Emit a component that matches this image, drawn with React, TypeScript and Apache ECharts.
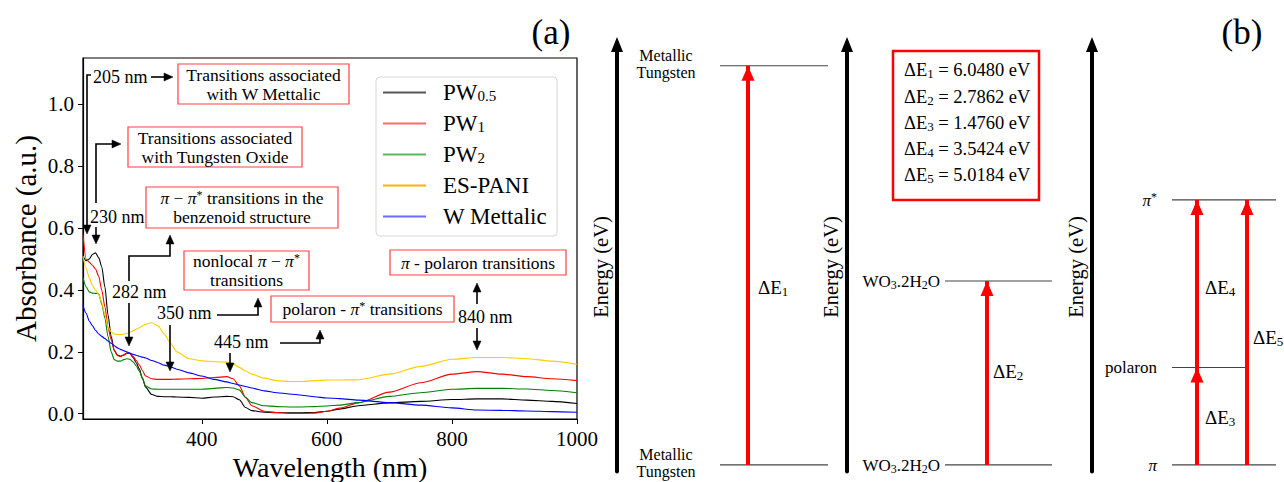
import React, { useEffect, useRef } from 'react';
import * as echarts from 'echarts';

// ---------- data ----------
const wavelengths = [210, 215, 220, 225, 230, 235, 240, 245, 250, 255, 260, 265, 270, 275, 280, 285, 290, 295, 300, 305, 310, 320, 330, 340, 350, 360, 380, 400, 420, 440, 450, 460, 470, 480, 500, 520, 540, 560, 580, 600, 620, 650, 700, 750, 800, 840, 880, 920, 960, 1000];
const pw05 = [0.51, 0.495, 0.5, 0.515, 0.52, 0.505, 0.475, 0.41, 0.32, 0.25, 0.205, 0.19, 0.186, 0.19, 0.195, 0.195, 0.182, 0.165, 0.145, 0.115, 0.086, 0.062, 0.056, 0.055, 0.055, 0.054, 0.053, 0.05, 0.054, 0.056, 0.055, 0.045, 0.02, 0.01, 0.005, 0.003, 0.003, 0.003, 0.004, 0.008, 0.015, 0.026, 0.035, 0.04, 0.046, 0.048, 0.048, 0.044, 0.04, 0.033];
const pw1 = [0.58, 0.5, 0.49, 0.48, 0.468, 0.445, 0.4, 0.346, 0.28, 0.24, 0.205, 0.188, 0.185, 0.19, 0.196, 0.195, 0.186, 0.172, 0.158, 0.14, 0.122, 0.113, 0.111, 0.111, 0.111, 0.112, 0.113, 0.114, 0.117, 0.12, 0.113, 0.09, 0.053, 0.026, 0.008, 0.004, 0.001, 0.001, 0.002, 0.008, 0.018, 0.035, 0.07, 0.1, 0.128, 0.136, 0.128, 0.12, 0.113, 0.107];
const pw2 = [0.44, 0.41, 0.394, 0.39, 0.389, 0.388, 0.355, 0.31, 0.25, 0.2, 0.175, 0.17, 0.17, 0.175, 0.178, 0.176, 0.168, 0.155, 0.138, 0.115, 0.09, 0.08, 0.079, 0.079, 0.079, 0.079, 0.079, 0.079, 0.082, 0.085, 0.083, 0.077, 0.052, 0.036, 0.026, 0.023, 0.022, 0.022, 0.023, 0.025, 0.028, 0.036, 0.056, 0.068, 0.079, 0.082, 0.082, 0.08, 0.075, 0.068];
const esPani = [0.51, 0.47, 0.44, 0.415, 0.4, 0.385, 0.36, 0.32, 0.28, 0.265, 0.258, 0.256, 0.256, 0.257, 0.26, 0.264, 0.268, 0.273, 0.278, 0.284, 0.289, 0.294, 0.284, 0.258, 0.228, 0.2, 0.178, 0.171, 0.168, 0.167, 0.162, 0.15, 0.138, 0.128, 0.115, 0.107, 0.104, 0.104, 0.107, 0.109, 0.109, 0.11, 0.128, 0.153, 0.176, 0.182, 0.182, 0.178, 0.17, 0.16];
const wMetallic = [0.35, 0.325, 0.3, 0.285, 0.27, 0.258, 0.25, 0.243, 0.235, 0.228, 0.22, 0.213, 0.208, 0.204, 0.2, 0.196, 0.192, 0.189, 0.186, 0.183, 0.18, 0.172, 0.165, 0.157, 0.151, 0.144, 0.132, 0.122, 0.111, 0.103, 0.098, 0.093, 0.088, 0.083, 0.074, 0.068, 0.064, 0.06, 0.055, 0.051, 0.049, 0.044, 0.036, 0.028, 0.019, 0.012, 0.011, 0.009, 0.007, 0.005];

const seriesNames = ['PW0.5', 'PW1', 'PW2', 'ES-PANI', 'W Mettalic'];
const legendLabels = ['PW{s|0.5}', 'PW{s|1}', 'PW{s|2}', 'ES-PANI', 'W Mettalic'];
const xTicks = [400, 600, 800, 1000];
const yTicks = [0, 0.2, 0.4, 0.6, 0.8, 1.0];

// energy gaps (eV)
const deltaE = [6.048, 2.7862, 1.476, 3.5424, 5.0184];
const panel1Levels = [0, deltaE[0]];            // Metallic Tungsten -> Metallic Tungsten
const panel2Levels = [0, deltaE[1]];            // WO3.2H2O -> WO3.2H2O
const panel3Levels = [0, deltaE[2], 4.015];     // pi, polaron, pi* (pi* drawn schematically as in the figure)

// ---------- styles / layout ----------
const FONT = 'Liberation Serif, serif';
const colors = ['#000000', '#ff0000', '#008000', '#ffcc00', '#0000ff'];
const legendColors = ['#555555', '#ff6b6b', '#5cb85c', '#ffb000', '#6b6bff'];
const BOX_RED = 'rgba(255,0,0,0.75)';

function rich(size: number) {
  return {
    s: { fontFamily: FONT, fontSize: Math.round(size * 0.7), lineHeight: Math.round(size * 0.3), verticalAlign: 'bottom', fill: '#000', color: '#000' },
    p: { fontFamily: FONT, fontSize: Math.round(size * 0.7), lineHeight: Math.round(size * 0.55), verticalAlign: 'top', fill: '#000', color: '#000' },
    m: { fontFamily: FONT, fontSize: size, fontStyle: 'italic', fill: '#000', color: '#000' },
  };
}

function txt(x: number, y: number, text: string, size: number, align: string = 'left', lh?: number) {
  return {
    type: 'text', x, y, z: 100, silent: true,
    style: {
      text, fontFamily: FONT, fontSize: size, fill: '#000', align, verticalAlign: 'middle',
      lineHeight: lh ?? Math.round(size * 1.1), rich: rich(size),
    },
  };
}

function box(x: number, y: number, w: number, h: number, text: string, size = 17.5) {
  return [
    { type: 'rect', z: 90, silent: true, shape: { x, y, width: w, height: h }, style: { fill: '#fff', stroke: BOX_RED, lineWidth: 1.2 } },
    txt(x + w / 2, y + h / 2, text, size, 'center', 19),
  ];
}

function arrow(points: number[][]) {
  const n = points.length;
  const [x2, y2] = points[n - 1];
  const [x1, y1] = points[n - 2];
  const ang = Math.atan2(y2 - y1, x2 - x1);
  const L = 9, W = 4;
  const bx = x2 - L * Math.cos(ang), by = y2 - L * Math.sin(ang);
  const px = -Math.sin(ang) * W, py = Math.cos(ang) * W;
  const shaft = points.slice(0, n - 1).concat([[bx, by]]);
  return [
    { type: 'polyline', z: 95, silent: true, shape: { points: shaft }, style: { stroke: '#000', lineWidth: 1.6, fill: null } },
    { type: 'polygon', z: 95, silent: true, shape: { points: [[x2, y2], [bx + px, by + py], [bx - px, by - py]] }, style: { fill: '#000', stroke: '#000', lineWidth: 0.5 } },
  ];
}

export default function App() {
  const ref = useRef<HTMLDivElement>(null);
  useEffect(() => {
    if (!ref.current) return;
    const chart = echarts.init(ref.current, undefined, { renderer: 'svg' });
    const spectra = [pw05, pw1, pw2, esPani, wMetallic];

    const spectrumSeries = spectra.map((vals, i) => ({
      type: 'line', name: seriesNames[i], xAxisIndex: 0, yAxisIndex: 0,
      data: wavelengths.map((w, j) => [w, vals[j]]),
      symbol: 'none', smooth: 0.25, smoothMonotone: 'x', clip: true,
      lineStyle: { color: colors[i], width: 1.1 }, itemStyle: { color: legendColors[i] }, z: 5,
    }));

    // schematic x positions (px from each panel's energy axis)
    const panels = [
      { grid: 1, x0: 103, x1: 211 },
      { grid: 2, x0: 98, x1: 205 },
      { grid: 3, x0: 80, x1: 184 },
    ];
    const levelLine = (grid: number, e: number, xa: number, xb: number) => ({
      type: 'line', xAxisIndex: grid, yAxisIndex: grid, data: [[xa, e], [xb, e]], symbol: 'none', silent: true,
      lineStyle: { color: '#444', width: 1.2 }, z: 3,
    });
    const redArrow = (grid: number, x: number, e0: number, e1: number) => ({
      type: 'line', xAxisIndex: grid, yAxisIndex: grid, symbol: 'none', silent: true, clip: false,
      data: [[x, e0], { value: [x, e1], symbol: 'triangle', symbolSize: [13, 15], symbolOffset: [0, 7.5] }],
      lineStyle: { color: '#ff0000', width: 4 }, itemStyle: { color: '#ff0000' }, z: 6,
    });

    const levelSeries = [
      ...panel1Levels.map((e) => levelLine(1, e, panels[0].x0, panels[0].x1)),
      ...panel2Levels.map((e) => levelLine(2, e, panels[1].x0, panels[1].x1)),
      levelLine(3, panel3Levels[0], panels[2].x0, panels[2].x1),
      levelLine(3, panel3Levels[1], panels[2].x0, 154),
      levelLine(3, panel3Levels[2], panels[2].x0, panels[2].x1),
      redArrow(1, 131, panel1Levels[0], panel1Levels[1]),
      redArrow(2, 140, panel2Levels[0], panel2Levels[1]),
      redArrow(3, 105, panel3Levels[0], panel3Levels[1]),
      redArrow(3, 105, panel3Levels[1], panel3Levels[2]),
      redArrow(3, 155, panel3Levels[0], panel3Levels[2]),
    ];

    const panelGrids = [
      { left: 617, top: 44.5, width: 225, height: 427, outerBoundsMode: 'none' },
      { left: 847, top: 44.5, width: 230, height: 427, outerBoundsMode: 'none' },
      { left: 1092, top: 44.5, width: 190, height: 427, outerBoundsMode: 'none' },
    ];
    const energyY = (i: number) => ({
      gridIndex: i + 1, type: 'value', min: -0.1, max: 6.37,
      name: 'Energy (eV)', nameLocation: 'middle', nameGap: 6, nameRotate: 90,
      nameTextStyle: { fontFamily: FONT, fontSize: 20.5, color: '#000', padding: [0, 18, 0, 0] },
      axisLine: { show: true, symbol: ['none', 'triangle'], symbolSize: [12, 15], lineStyle: { color: '#000', width: 4 } },
      axisTick: { show: false }, axisLabel: { show: false }, splitLine: { show: false },
    });

    const gapLabels = deltaE.map((d, i) => txt(904, [70, 97, 123, 149, 175][i], `ΔE{s|${i + 1}} = ${d.toFixed(4)} eV`, 18.5));

    const graphic = [
      // left panel annotations
      txt(93, 77, '205 nm', 18),
      ...arrow([[151, 77], [173, 77]]),
      ...arrow([[91, 75], [87, 75], [87, 234]]),
      ...box(178, 64, 171, 40, 'Transitions associated\nwith W Mettalic'),
      txt(90, 217, '230 nm', 18),
      ...arrow([[96, 203], [96, 144], [121, 144]]),
      ...arrow([[96, 227], [96, 244]]),
      ...box(128, 127, 174, 40, 'Transitions associated\nwith Tungsten Oxide'),
      ...box(146, 187, 192, 41, '{m|π} − {m|π}{p|*} transitions in the\nbenzenoid structure'),
      txt(112, 292, '282 nm', 18),
      ...arrow([[129, 281], [129, 256], [170, 256], [170, 235]]),
      ...arrow([[129, 303], [129, 346]]),
      ...box(184, 251, 125, 39, 'nonlocal {m|π} − {m|π}{p|*}\ntransitions'),
      txt(157, 313, '350 nm', 18),
      ...arrow([[217, 315], [258, 315], [258, 298]]),
      ...arrow([[170, 325], [170, 371]]),
      ...box(271, 296, 183, 26, 'polaron - {m|π}{p|*} transitions'),
      txt(214, 342, '445 nm', 18),
      ...arrow([[280, 343], [320, 343], [320, 330]]),
      ...arrow([[230, 353], [230, 372]]),
      ...box(390, 250, 176, 25, '{m|π} - polaron transitions'),
      txt(458, 317, '840 nm', 18),
      ...arrow([[477, 304], [477, 283]]),
      ...arrow([[477, 328], [477, 350]]),
      txt(551, 32, '(a)', 35, 'center'),
      // right panel labels
      txt(666, 64, 'Metallic\nTungsten', 16, 'center', 17),
      txt(666, 463, 'Metallic\nTungsten', 16, 'center', 17),
      txt(758, 287, 'ΔE{s|1}', 19),
      txt(940, 281, 'WO{s|3}.2H{s|2}O', 17, 'right'),
      txt(940, 465, 'WO{s|3}.2H{s|2}O', 17, 'right'),
      txt(993, 371, 'ΔE{s|2}', 19),
      { type: 'rect', z: 90, silent: true, shape: { x: 893, y: 51, width: 146, height: 149 }, style: { fill: 'none', stroke: '#ff0000', lineWidth: 2.5 } },
      ...gapLabels,
      txt(1157, 200, '{m|π}{p|*}', 17, 'right'),
      txt(1157, 367, 'polaron', 17, 'right'),
      txt(1157, 465, '{m|π}', 17, 'right'),
      txt(1205, 287, 'ΔE{s|4}', 19),
      txt(1205, 417, 'ΔE{s|3}', 19),
      txt(1253, 337, 'ΔE{s|5}', 19),
      txt(1242, 32, '(b)', 35, 'center'),
    ];

    chart.setOption({
      animation: false,
      backgroundColor: '#ffffff',
      textStyle: { fontFamily: FONT },
      grid: [
        { left: 83, top: 58, width: 494, height: 361, show: true, borderColor: '#000', borderWidth: 1.2, backgroundColor: 'transparent', outerBoundsMode: 'none', containLabel: false },
        ...panelGrids,
      ],
      legend: {
        data: seriesNames, orient: 'vertical', left: 376, top: 77,
        padding: [4, 10, 8, 7], itemWidth: 43, itemHeight: 2, itemGap: 8, icon: 'rect',
        backgroundColor: 'rgba(255,255,255,0.85)', borderColor: '#d6d6d6', borderWidth: 1, borderRadius: 4,
        formatter: (name: string) => legendLabels[seriesNames.indexOf(name)],
        textStyle: {
          fontFamily: FONT, fontSize: 23, color: '#000', lineHeight: 22, padding: [0, 0, 0, 12],
          rich: { s: { fontFamily: FONT, fontSize: 15, lineHeight: 5, verticalAlign: 'bottom', color: '#000' } },
        },
      },
      xAxis: [
        {
          gridIndex: 0, type: 'value', min: 210, max: 1000,
          name: 'Wavelength (nm)', nameLocation: 'middle', nameGap: 30,
          nameTextStyle: { fontFamily: FONT, fontSize: 28, lineHeight: 28, color: '#000' },
          axisLine: { show: true, onZero: false, lineStyle: { color: '#000', width: 1.2 } },
          axisTick: { show: true, inside: false, length: 5, customValues: xTicks, lineStyle: { color: '#000' } },
          axisLabel: { show: true, customValues: xTicks, margin: 9, fontFamily: FONT, fontSize: 21, color: '#000', formatter: (v: number) => String(v) },
          splitLine: { show: false },
        },
        ...panelGrids.map((g, i) => ({ gridIndex: i + 1, type: 'value', min: 0, max: g.width, show: false })),
      ],
      yAxis: [
        {
          gridIndex: 0, type: 'value', min: -0.017, max: 1.15,
          name: 'Absorbance (a.u.)', nameLocation: 'middle', nameGap: 43, nameRotate: 90,
          nameTextStyle: { fontFamily: FONT, fontSize: 29, color: '#000' },
          axisLine: { show: true, onZero: false, lineStyle: { color: '#000', width: 1.2 } },
          axisTick: { show: true, inside: false, length: 5, customValues: yTicks, lineStyle: { color: '#000' } },
          axisLabel: { show: true, customValues: yTicks, margin: 9, fontFamily: FONT, fontSize: 21, color: '#000', formatter: (v: number) => v.toFixed(1) },
          splitLine: { show: false },
        },
        energyY(0), energyY(1), energyY(2),
      ],
      series: [...spectrumSeries, ...levelSeries],
      graphic,
    });
    return () => chart.dispose();
  }, []);
  return <div ref={ref} style={{ position: 'fixed', left: 0, top: 0, width: 1284, height: 482, background: '#fff' }} />;
}
